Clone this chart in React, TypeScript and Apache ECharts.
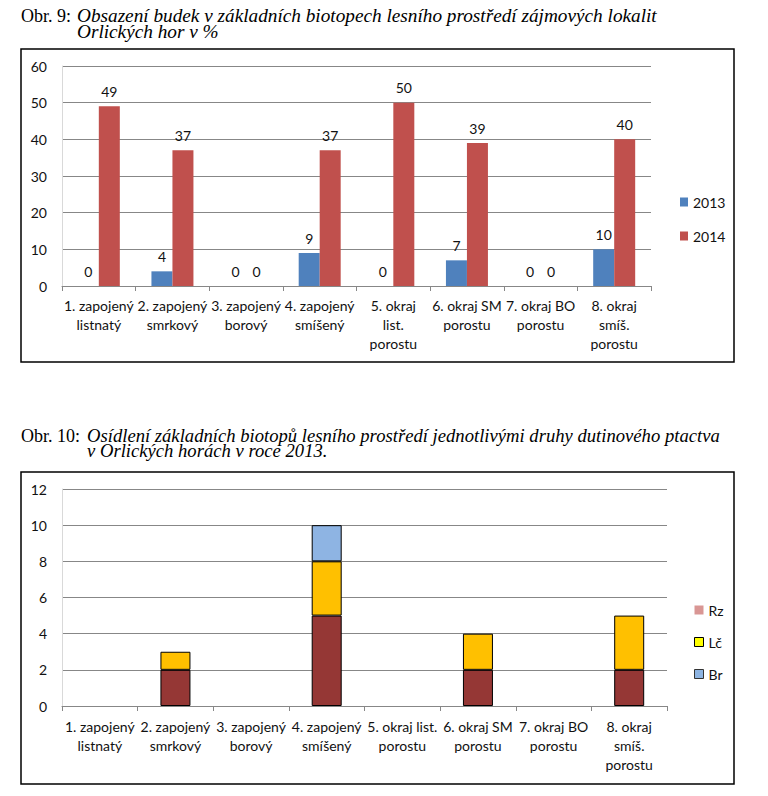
import React, { useEffect, useRef } from "react";
import * as echarts from "echarts";

// ---- data ----
const categoriesTop = [
  "1. zapojený\nlistnatý",
  "2. zapojený\nsmrkový",
  "3. zapojený\nborový",
  "4. zapojený\nsmíšený",
  "5. okraj\nlist.\nporostu",
  "6. okraj SM\nporostu",
  "7. okraj BO\nporostu",
  "8. okraj\nsmíš.\nporostu",
];
const categoriesBottom = [
  "1. zapojený\nlistnatý",
  "2. zapojený\nsmrkový",
  "3. zapojený\nborový",
  "4. zapojený\nsmíšený",
  "5. okraj list.\nporostu",
  "6. okraj SM\nporostu",
  "7. okraj BO\nporostu",
  "8. okraj\nsmíš.\nporostu",
];
const values2013 = [0, 4, 0, 9, 0, 7, 0, 10];
const values2014 = [49, 37, 0, 37, 50, 39, 0, 40];
const brValues = [0, 2, 0, 5, 0, 2, 0, 2];
const lcValues = [0, 1, 0, 3, 0, 2, 0, 3];
const rzValues = [0, 0, 0, 2, 0, 0, 0, 0];

const title1Prefix = "Obr. 9:";
const title1Lines = ["Obsazení budek v základních biotopech lesního prostředí zájmových lokalit", "Orlických hor v %"];
const title2Prefix = "Obr. 10:";
const title2Lines = ["Osídlení základních biotopů lesního prostředí jednotlivými druhy dutinového ptactva", "v Orlických horách v roce 2013."];

const SANS = "Lato";
const SERIF = "Liberation Serif";
const GRID = "#878787";
const TXT = "#111";

const nz = (arr: number[]) => arr.map((v) => (v === 0 ? null : v));

export default function App() {
  const ref = useRef<HTMLDivElement>(null);
  useEffect(() => {
    if (!ref.current) return;
    const chart = echarts.init(ref.current, undefined, { renderer: "svg" });
    const xAxisCommon = (gridIndex: number, data: string[], margin: number) => ({
      type: "category",
      gridIndex,
      data,
      axisLine: { show: true, lineStyle: { color: GRID, width: 1 } },
      axisTick: { show: true, length: 5, lineStyle: { color: GRID } },
      axisLabel: {
        interval: 0,
        fontFamily: SANS,
        fontSize: 14,
        color: TXT,
        lineHeight: 19,
        margin,
      },
    });
    const yAxisCommon = (gridIndex: number, max: number, interval: number) => ({
      type: "value",
      gridIndex,
      min: 0,
      max,
      interval,
      axisLine: { show: true, lineStyle: { color: "#d9d9d9" } },
      axisTick: { show: false },
      splitLine: { show: true, lineStyle: { color: GRID, width: 1 } },
      axisLabel: { fontFamily: SANS, fontSize: 14, color: TXT, margin: 15 },
    });
    const valueLabel = {
      show: true,
      position: "top",
      distance: 8,
      fontFamily: SANS,
      fontSize: 14,
      color: TXT,
    };
    const titleStyle = (text: string, italic: boolean) => ({
      text,
      fontFamily: SERIF,
      fontSize: 18,
      fontStyle: italic ? "italic" : "normal",
      fill: "#000",
      verticalAlign: "middle",
      lineHeight: 15.5,
    });
    const option = {
      animation: false,
      backgroundColor: "#fff",
      grid: [
        { left: 62, top: 66, width: 589, height: 220 },
        { left: 62, top: 489, width: 605, height: 217 },
      ],
      xAxis: [xAxisCommon(0, categoriesTop, 10), xAxisCommon(1, categoriesBottom, 11)],
      yAxis: [yAxisCommon(0, 60, 10), yAxisCommon(1, 12, 2)],
      legend: [
        {
          orient: "vertical",
          left: 675,
          top: 190,
          itemWidth: 8,
          itemHeight: 9,
          itemGap: 20,
          icon: "rect",
          data: ["2013", "2014"],
          textStyle: { fontFamily: SANS, fontSize: 14, color: TXT },
        },
        {
          orient: "vertical",
          left: 689,
          top: 598,
          itemWidth: 9,
          itemHeight: 9,
          itemGap: 18,
          icon: "rect",
          data: [
            { name: "Rz", itemStyle: { color: "#D99694", borderWidth: 0 } },
            { name: "Lč", itemStyle: { color: "#FFFF00", borderColor: "#000", borderWidth: 1 } },
            { name: "Br", itemStyle: { color: "#8DB4E2", borderColor: "#333", borderWidth: 1 } },
          ],
          textStyle: { fontFamily: SANS, fontSize: 14, color: TXT },
        },
      ],
      series: [
        {
          name: "2013",
          type: "bar",
          xAxisIndex: 0,
          yAxisIndex: 0,
          data: values2013,
          barWidth: 21,
          barGap: "0%",
          itemStyle: { color: "#4F81BD" },
          label: valueLabel,
        },
        {
          name: "2014",
          type: "bar",
          xAxisIndex: 0,
          yAxisIndex: 0,
          data: values2014,
          barWidth: 21,
          barGap: "0%",
          itemStyle: { color: "#C0504D" },
          label: valueLabel,
        },
        {
          name: "Br",
          type: "bar",
          xAxisIndex: 1,
          yAxisIndex: 1,
          stack: "s",
          data: nz(brValues),
          barWidth: 30,
          itemStyle: { color: "#953735", borderColor: "#000", borderWidth: 1 },
        },
        {
          name: "Lč",
          type: "bar",
          xAxisIndex: 1,
          yAxisIndex: 1,
          stack: "s",
          data: nz(lcValues),
          barWidth: 30,
          itemStyle: { color: "#FFC000", borderColor: "#000", borderWidth: 1 },
        },
        {
          name: "Rz",
          type: "bar",
          xAxisIndex: 1,
          yAxisIndex: 1,
          stack: "s",
          data: nz(rzValues),
          barWidth: 30,
          itemStyle: { color: "#8EB4E3", borderColor: "#000", borderWidth: 1 },
        },
      ],
      graphic: [
        { type: "rect", shape: { x: 21, y: 49, width: 713, height: 313 }, style: { fill: "none", stroke: "#000", lineWidth: 1.5 }, z: 100 },
        { type: "rect", shape: { x: 21, y: 472, width: 713, height: 312 }, style: { fill: "none", stroke: "#000", lineWidth: 1.5 }, z: 100 },
        { type: "text", x: 21, y: 16, style: titleStyle(title1Prefix, false) },
        { type: "text", x: 77, y: 23.75, scaleX: 1.07, style: titleStyle(title1Lines.join("\n"), true) },
        { type: "text", x: 21, y: 436, style: titleStyle(title2Prefix, false) },
        { type: "text", x: 87, y: 443.75, scaleX: 1.036, style: titleStyle(title2Lines.join("\n"), true) },
      ],
    };
    chart.setOption(option as any);
    return () => chart.dispose();
  }, []);
  return (
    <div
      ref={ref}
      style={{ position: "fixed", left: 0, top: 0, width: 768, height: 796, background: "#fff" }}
    />
  );
}
